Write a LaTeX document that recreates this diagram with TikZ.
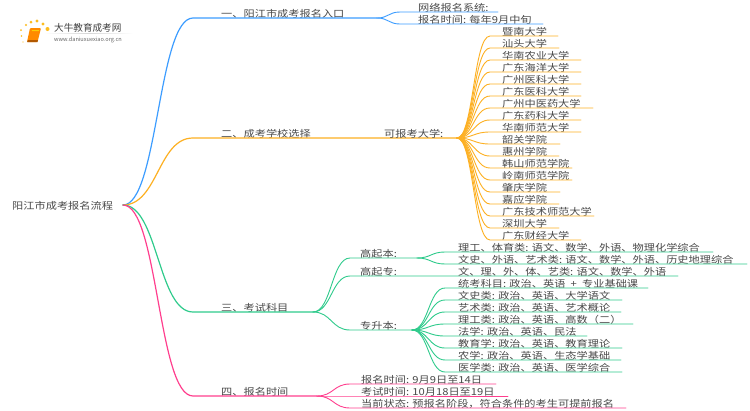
\documentclass[tikz,border=0pt]{standalone}
\usepackage{fontspec}
\setmainfont{Noto Sans CJK SC}
\usetikzlibrary{calc,shadings}
\definecolor{cblue}{HTML}{3D9DFF}
\definecolor{corange}{HTML}{FDB022}
\definecolor{cgreen}{HTML}{2FCB8C}
\definecolor{cpink}{HTML}{FF3F8E}
\definecolor{ctext}{HTML}{4A4A4A}
\tikzset{
  lbl/.style={font=\fontsize{11.2pt}{12pt}\selectfont,text=ctext,inner sep=0pt,anchor=base west,yscale=.86,transform shape},
  wire/.style={line width=#1,line cap=round,line join=round},
  wire/.default=1pt
}
% \bough{name}{parent}{colour}{width}{text x}{line y}{curve end x}{line end x}{text}
\newcommand\bough[9]{%
  \coordinate (#1-s) at (#7,#6);
  \coordinate (#1-e) at (#8,#6);
  \node[lbl] (#1) at (#5,#6-1) {#9};
  \draw[wire=#4,color=#3] let \p1=(#2),\p2=(#1-s) in (#2)
    .. controls ({(\x1+\x2)/2},\y1) and ({(\x1+\x2)/2},\y2) .. (#1-s) -- (#1-e);
}
\begin{document}
\begin{tikzpicture}[x=1pt,y=-1pt]
\useasboundingbox (0,0) rectangle (750,410);
\fill[white] (0,0) rectangle (750,410);
% logo
\foreach \px/\py/\r in {21/30/1,21.5/36/.8,23/42/.7,26/25/1.2,31/22/1.5,37/21/1.7,43/24/1.7,47.5/29/2}
  \fill[corange!85!yellow] (\px,\py) circle (\r);
\fill[orange!92!yellow,rounded corners=1pt] (30,28) -- (41,28) -- (37.5,42) -- (27,42) -- cycle;
\fill[orange!70!black] (28,40) -- (38,40) -- (37.5,42) -- (27,42) -- cycle;
\fill[yellow!65!orange] (32,30) -- (39,30) -- (38.7,31) -- (31.7,31) -- cycle;
\shade[left color=white,right color=white,middle color=black!16] (44,33) rectangle (133,33.6);
\node[font=\fontsize{9.6pt}{10pt}\selectfont,text=black!75,inner sep=0pt,anchor=base west] (logotitle) at (54,31.3) {大牛教育成考网};
\node[font=\fontsize{5.6pt}{6pt}\selectfont,text=black!60,inner sep=0pt,anchor=base west] (logourl) at (54,41) {www.daniuxuexiao.org.cn};
% root
\coordinate (root) at (123,205);
\node[lbl] (title) at (12,209.5) {阳江市成考报名流程};
% level 1
\bough{b1}{root}{cblue}{1.2pt}{221}{18}{193}{377}{一、阳江市成考报名入口}
\bough{b2}{root}{corange}{1.2pt}{221}{138}{193}{457}{二、成考学校选择}
\bough{b3}{root}{cgreen}{1.2pt}{221}{312}{193}{313}{三、考试科目}
\bough{b4}{root}{cpink}{1.2pt}{221}{396}{193}{317}{四、报名时间}
% branch 1
\coordinate (k1) at (b1-e);
\bough{a1}{k1}{cblue}{.9pt}{418}{12}{400}{498}{网络报名系统:}
\bough{a2}{k1}{cblue}{.9pt}{418}{24}{400}{543}{报名时间: 每年9月中旬}
\node[lbl] (b2sub) at (384,137) {可报考大学:};
% branch 2
\coordinate (k2) at (b2-e);
\bough{u01}{k2}{corange}{.9pt}{502}{36}{490}{558}{暨南大学}
\bough{u02}{k2}{corange}{.9pt}{502}{48}{490}{559}{汕头大学}
\bough{u03}{k2}{corange}{.9pt}{502}{60}{490}{581}{华南农业大学}
\bough{u04}{k2}{corange}{.9pt}{502}{72}{490}{581}{广东海洋大学}
\bough{u05}{k2}{corange}{.9pt}{502}{84}{490}{581}{广州医科大学}
\bough{u06}{k2}{corange}{.9pt}{502}{96}{490}{581}{广东医科大学}
\bough{u07}{k2}{corange}{.9pt}{502}{108}{490}{593}{广州中医药大学}
\bough{u08}{k2}{corange}{.9pt}{502}{120}{490}{581}{广东药科大学}
\bough{u09}{k2}{corange}{.9pt}{502}{132}{490}{581}{华南师范大学}
\bough{u10}{k2}{corange}{.9pt}{502}{144}{490}{560}{韶关学院}
\bough{u11}{k2}{corange}{.9pt}{502}{156}{490}{559}{惠州学院}
\bough{u12}{k2}{corange}{.9pt}{502}{168}{490}{572}{韩山师范学院}
\bough{u13}{k2}{corange}{.9pt}{502}{180}{490}{572}{岭南师范学院}
\bough{u14}{k2}{corange}{.9pt}{502}{192}{490}{560}{肇庆学院}
\bough{u15}{k2}{corange}{.9pt}{502}{204}{490}{559}{嘉应学院}
\bough{u16}{k2}{corange}{.9pt}{502}{216}{490}{594}{广东技术师范大学}
\bough{u17}{k2}{corange}{.9pt}{502}{228}{490}{559}{深圳大学}
\bough{u18}{k2}{corange}{.9pt}{502}{240}{490}{581}{广东财经大学}
% branch 3
\coordinate (k3) at (b3-e);
\bough{g1}{k3}{cgreen}{.9pt}{360}{258}{350}{417}{高起本:}
\bough{g2}{k3}{cgreen}{.9pt}{360}{276}{350}{678}{高起专:}
\bough{g3}{k3}{cgreen}{.9pt}{360}{330}{350}{412}{专升本:}
\node[lbl] (g2t) at (458,275) {文、理、外、体、艺类: 语文、数学、外语};
\coordinate (k4) at (g1-e);
\bough{h1}{k4}{cgreen}{.9pt}{458}{252}{445}{713}{理工、体育类: 语文、数学、外语、物理化学综合}
\bough{h2}{k4}{cgreen}{.9pt}{458}{264}{445}{747}{文史、外语、艺术类: 语文、数学、外语、历史地理综合}
\coordinate (k5) at (g3-e);
\bough{z1}{k5}{cgreen}{.9pt}{458}{288}{445}{648}{统考科目: 政治、英语\makebox[16.7pt]{+}专业基础课}
\bough{z2}{k5}{cgreen}{.9pt}{458}{300}{445}{622}{文史类: 政治、英语、大学语文}
\bough{z3}{k5}{cgreen}{.9pt}{458}{312}{445}{621}{艺术类: 政治、英语、艺术概论}
\bough{z4}{k5}{cgreen}{.9pt}{458}{324}{445}{633}{理工类: 政治、英语、高数（二）}
\bough{z5}{k5}{cgreen}{.9pt}{458}{336}{445}{587}{法学: 政治、英语、民法}
\bough{z6}{k5}{cgreen}{.9pt}{458}{348}{445}{622}{教育学: 政治、英语、教育理论}
\bough{z7}{k5}{cgreen}{.9pt}{458}{360}{445}{621}{农学: 政治、英语、生态学基础}
\bough{z8}{k5}{cgreen}{.9pt}{458}{372}{445}{622}{医学类: 政治、英语、医学综合}
% branch 4
\coordinate (k6) at (b4-e);
\bough{t1}{k6}{cpink}{.9pt}{361}{384}{350}{496}{报名时间: 9月9日至14日}
\bough{t2}{k6}{cpink}{.9pt}{361}{396}{350}{508}{考试时间: 10月18日至19日}
\bough{t3}{k6}{cpink}{.9pt}{361}{408}{350}{626}{当前状态: 预报名阶段，符合条件的考生可提前报名}
\end{tikzpicture}
\end{document}
